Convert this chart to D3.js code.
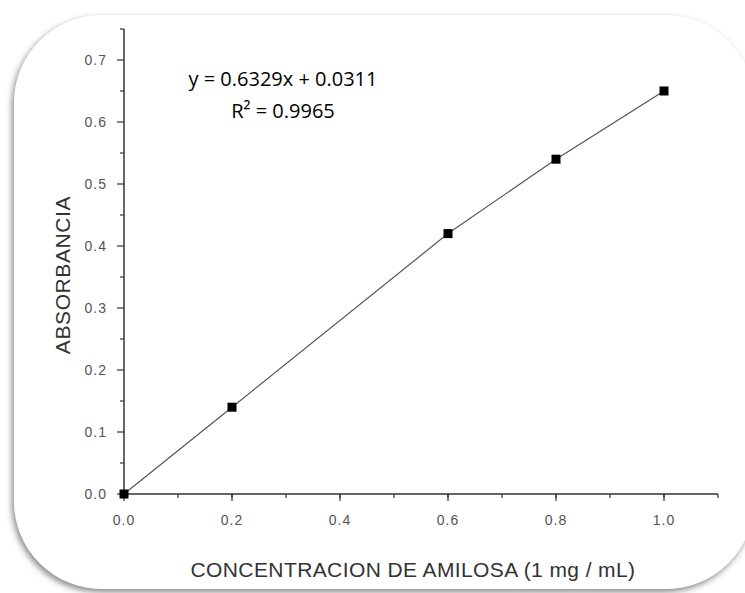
<!DOCTYPE html>
<html>
<head>
<meta charset="utf-8">
<script src="https://cdn.jsdelivr.net/npm/d3@7"></script>
<style>
  body { margin: 0; background: #fff; }
  svg { display: block; }
</style>
</head>
<body>
<div id="chart"></div>
<script>
// Curva de calibracion de amilosa
const concentracion = [0.0, 0.2, 0.6, 0.8, 1.0];
const absorbancia = [0.0, 0.14, 0.42, 0.54, 0.65];
const xTicks = [0.0, 0.2, 0.4, 0.6, 0.8, 1.0];
const yTicks = [0.0, 0.1, 0.2, 0.3, 0.4, 0.5, 0.6, 0.7];
const ecuacion = ["y = 0.6329x + 0.0311", "R² = 0.9965"];

const width = 745, height = 593;

const svg = d3.select("#chart")
    .append("svg")
    .attr("width", width)
    .attr("height", height);

// Drop shadow for the rounded frame
const defs = svg.append("defs");
const filt = defs.append("filter").attr("id", "shadow")
    .attr("x", "-10%").attr("y", "-10%").attr("width", "120%").attr("height", "120%");
filt.append("feDropShadow")
    .attr("dx", -2).attr("dy", 3)
    .attr("stdDeviation", 3)
    .attr("flood-color", "#555")
    .attr("flood-opacity", 0.7);

svg.append("rect")
    .attr("x", 14).attr("y", 15)
    .attr("width", 740).attr("height", 574)
    .attr("rx", 88).attr("ry", 88)
    .attr("fill", "#fff")
    .attr("filter", "url(#shadow)");

// Scales
const x = d3.scaleLinear().domain([0, 1.1]).range([124, 718]);
const y = d3.scaleLinear().domain([0, 0.75]).range([494, 29]);

const font = "'Liberation Sans', Arial, sans-serif";

// X axis
const xAxis = svg.append("g").attr("transform", `translate(0,${y(0)})`);
xAxis.append("line")
    .attr("x1", x(0)).attr("x2", x(1.1))
    .attr("stroke", "#333").attr("stroke-width", 1.5);
xAxis.selectAll("line.minor")
    .data(d3.range(0, 11).map(i => i * 0.1 + 0.1))
    .join("line").attr("class", "minor")
    .attr("x1", d => x(d)).attr("x2", d => x(d))
    .attr("y1", 0).attr("y2", 4)
    .attr("stroke", "#333").attr("stroke-width", 1.2);
xAxis.selectAll("line.major")
    .data(xTicks)
    .join("line").attr("class", "major")
    .attr("x1", d => x(d)).attr("x2", d => x(d))
    .attr("y1", 0).attr("y2", 7)
    .attr("stroke", "#333").attr("stroke-width", 1.2);
xAxis.selectAll("text")
    .data(xTicks)
    .join("text")
    .attr("x", d => x(d))
    .attr("y", 31)
    .attr("text-anchor", "middle")
    .attr("font-family", font)
    .attr("font-size", 14)
    .attr("letter-spacing", 1)
    .attr("fill", "#555")
    .text(d => d3.format(".1f")(d));

// Y axis
const yAxis = svg.append("g").attr("transform", `translate(${x(0)},0)`);
yAxis.append("line")
    .attr("y1", y(0)).attr("y2", y(0.75))
    .attr("stroke", "#333").attr("stroke-width", 1.5);
yAxis.selectAll("line.minor")
    .data(d3.range(0, 8).map(i => i * 0.1 + 0.05))
    .join("line").attr("class", "minor")
    .attr("y1", d => y(d)).attr("y2", d => y(d))
    .attr("x1", 0).attr("x2", -4)
    .attr("stroke", "#333").attr("stroke-width", 1.2);
yAxis.selectAll("line.major")
    .data(yTicks)
    .join("line").attr("class", "major")
    .attr("y1", d => y(d)).attr("y2", d => y(d))
    .attr("x1", 0).attr("x2", -7)
    .attr("stroke", "#333").attr("stroke-width", 1.2);
yAxis.selectAll("text")
    .data(yTicks)
    .join("text")
    .attr("x", -17)
    .attr("y", d => y(d) + 5)
    .attr("text-anchor", "end")
    .attr("font-family", font)
    .attr("font-size", 14)
    .attr("letter-spacing", 1)
    .attr("fill", "#555")
    .text(d => d3.format(".1f")(d));

// Axis titles
svg.append("text")
    .attr("x", 413).attr("y", 577)
    .attr("text-anchor", "middle")
    .attr("font-family", font)
    .attr("font-size", 21)
    .attr("letter-spacing", 0.4)
    .attr("fill", "#333")
    .text("CONCENTRACION DE AMILOSA (1 mg / mL)");

svg.append("text")
    .attr("transform", "translate(70,275) rotate(-90)")
    .attr("text-anchor", "middle")
    .attr("font-family", font)
    .attr("font-size", 21)
    .attr("letter-spacing", 0.6)
    .attr("fill", "#333")
    .text("ABSORBANCIA");

// Data line + markers
const pts = concentracion.map((c, i) => [c, absorbancia[i]]);
svg.append("path")
    .datum(pts)
    .attr("d", d3.line().x(d => x(d[0])).y(d => y(d[1])))
    .attr("fill", "none")
    .attr("stroke", "#555")
    .attr("stroke-width", 1.2);

svg.selectAll("rect.pt")
    .data(pts)
    .join("rect").attr("class", "pt")
    .attr("x", d => x(d[0]) - 4.5)
    .attr("y", d => y(d[1]) - 4.5)
    .attr("width", 9).attr("height", 9)
    .attr("fill", "#000");

// Regression equation
svg.selectAll("text.eq")
    .data(ecuacion)
    .join("text").attr("class", "eq")
    .attr("x", 283)
    .attr("y", (d, i) => 86 + i * 32)
    .attr("text-anchor", "middle")
    .attr("font-family", "'Open Sans', 'Noto Sans', sans-serif")
    .attr("font-size", 20)
    .attr("fill", "#000")
    .text(d => d);
</script>
</body>
</html>
